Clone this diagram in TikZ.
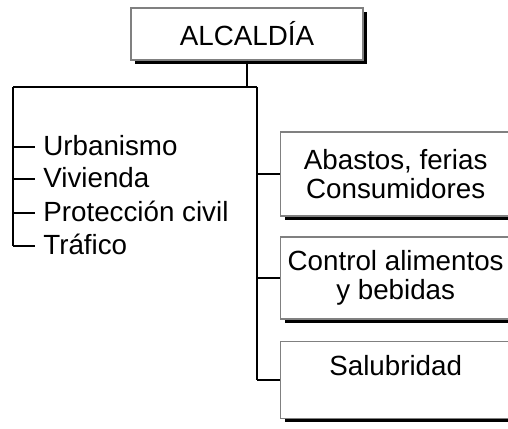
\documentclass[tikz,border=0pt]{standalone}
\usepackage{fontspec}
\setmainfont{Liberation Sans}
\usetikzlibrary{positioning,shadows}

\tikzset{
  unitbox/.style={draw=gray, line width=0.8pt, fill=white, align=center,
    drop shadow={shadow xshift=0.08cm, shadow yshift=-0.08cm, fill=black, opacity=1}},
  link/.style={line width=0.8pt}
}

\begin{document}
\begin{tikzpicture}[x=0.02cm, y=-0.02cm, font=\fontsize{15.8}{16.4}\selectfont]
  \clip (0,0) rectangle (508,429);
  % top box
  \node[unitbox, minimum width=4.64cm, minimum height=1.04cm] (alcaldia) at (247,34) {ALCALDÍA};
  \coordinate (split) at (247,87);
  \coordinate (left) at (13,87);
  \coordinate (right) at (257,87);
  \draw[link] (alcaldia.south) -- (split);
  \draw[link] (left) -- (right);
  % left list
  \foreach \i/\y/\txt in {1/147/Urbanismo, 2/179/Vivienda, 3/213/Protección civil, 4/246/Tráfico} {
    \node[anchor=west, inner xsep=0.16cm, text height=0.36cm, text depth=0.02cm] (item\i) at (35,\y) {\txt};
    \draw[link] (left |- item\i.west) -- (item\i.west);
  }
  \draw[link] (left) -- (left |- item4.west);
  % right boxes
  \foreach \i/\y/\h/\txt in {1/174/84/{Abastos, ferias\\Consumidores}, 2/278/82/{Control alimentos\\y bebidas}, 3/380/77/{Salubridad\\\mbox{}}} {
    \node[unitbox, anchor=west, minimum width=4.6cm, minimum height=\h*0.02cm] (dept\i) at (280,\y) {\txt};
    \draw[link] (right |- dept\i.west) -- (dept\i.west);
  }
  \draw[link] (right) -- (right |- dept3.west);
\end{tikzpicture}
\end{document}
